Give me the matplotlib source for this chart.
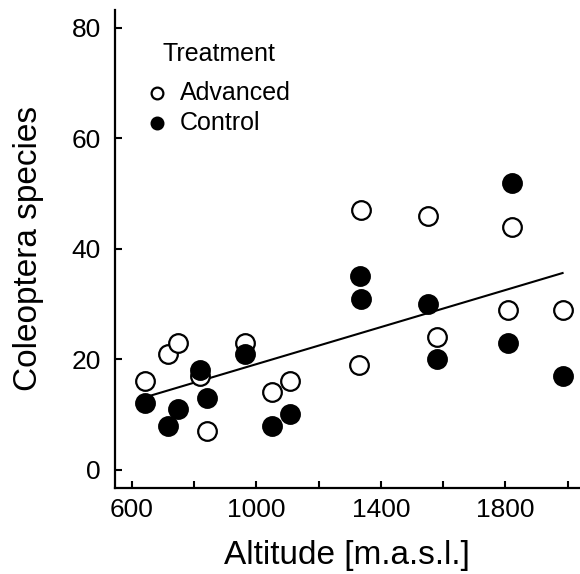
import matplotlib
matplotlib.use("Agg")
import matplotlib.pyplot as plt
import numpy as np

plt.rcParams["font.family"] = ["Liberation Sans", "DejaVu Sans"]

# ============================================================
# DATA
# ============================================================

alt_advanced = [642, 716, 748, 818, 841, 963, 1050, 1107, 1335, 1330, 1551, 1579, 1823, 1807, 1984]
sp_advanced = [16, 21, 23, 17, 7, 23, 14, 16, 47, 19, 46, 24, 44, 29, 29]

alt_control = [642, 716, 748, 818, 841, 963, 1050, 1107, 1332, 1335, 1551, 1579, 1823, 1807, 1984]
sp_control = [12, 8, 11, 18, 13, 21, 8, 10, 35, 31, 30, 20, 52, 23, 17]

x_ticks = [600, 1000, 1400, 1800]
y_ticks = [0, 20, 40, 60, 80]

# ============================================================
# PLOT
# ============================================================

fig = plt.figure(figsize=(5.8, 5.74), dpi=100)
ax = fig.add_axes([0.198, 0.150, 0.802, 0.833])

ax.scatter(alt_advanced, sp_advanced, s=180, facecolors="white",
           edgecolors="black", linewidths=1.6, label="Advanced", zorder=3)
ax.scatter(alt_control, sp_control, s=180, facecolors="black",
           edgecolors="black", linewidths=1.6, label="Control", zorder=3)

# linear fit over all points
all_x = np.array(alt_advanced + alt_control)
all_y = np.array(sp_advanced + sp_control)
slope, intercept = np.polyfit(all_x, all_y, 1)
fit_x = np.array([all_x.min(), all_x.max()])
ax.plot(fit_x, slope * fit_x + intercept, color="black", lw=1.5, zorder=2)

ax.set_xlim(545, 2040)
ax.set_ylim(-3.3, 83.3)
ax.set_xticks(np.arange(600, 2001, 200), minor=True)
ax.set_xticks(x_ticks)
ax.set_yticks(y_ticks)
ax.tick_params(direction="in", length=5, width=1.5, labelsize=19)
ax.tick_params(axis="x", pad=7)
ax.tick_params(axis="y", pad=10)
ax.tick_params(which="minor", direction="in", length=5, width=1.5)

for side in ["top", "right"]:
    ax.spines[side].set_visible(False)
for side in ["left", "bottom"]:
    ax.spines[side].set_linewidth(1.6)

ax.set_xlabel("Altitude [m.a.s.l.]", fontsize=24, labelpad=13)
ax.set_ylabel("Coleoptera species", fontsize=24, labelpad=20)

# legend (title placed as plain text to get the wider gap)
ax.text(0.103, 0.908, "Treatment", transform=ax.transAxes, fontsize=18,
        ha="left", va="center")
ax.legend(loc="upper left", bbox_to_anchor=(0.0688, 0.852),
          frameon=False, fontsize=18, markerscale=0.63, borderpad=0,
          borderaxespad=0, handletextpad=0.52, handlelength=0.8,
          labelspacing=0.26)

fig.savefig("out.png", dpi=100)
